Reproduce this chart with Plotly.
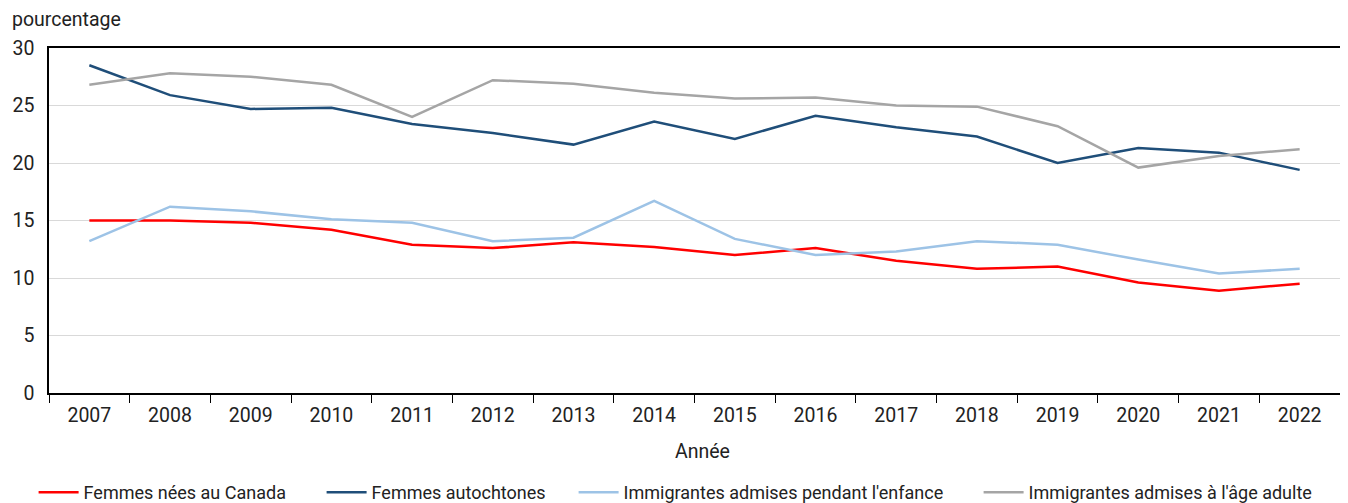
import plotly.graph_objects as go

years = [str(y) for y in range(2007, 2023)]
canada = [15.0, 15.0, 14.8, 14.2, 12.9, 12.6, 13.1, 12.7, 12.0, 12.6, 11.5, 10.8, 11.0, 9.6, 8.9, 9.5]
autochtones = [28.5, 25.9, 24.7, 24.8, 23.4, 22.6, 21.6, 23.6, 22.1, 24.1, 23.1, 22.3, 20.0, 21.3, 20.9, 19.4]
enfance = [13.2, 16.2, 15.8, 15.1, 14.8, 13.2, 13.5, 16.7, 13.4, 12.0, 12.3, 13.2, 12.9, 11.6, 10.4, 10.8]
adulte = [26.8, 27.8, 27.5, 26.8, 24.0, 27.2, 26.9, 26.1, 25.6, 25.7, 25.0, 24.9, 23.2, 19.6, 20.6, 21.2]

series = [
    ("Femmes nées au Canada", canada, "#ff0000"),
    ("Femmes autochtones", autochtones, "#1f4e79"),
    ("Immigrantes admises pendant l'enfance", enfance, "#9dc3e6"),
    ("Immigrantes admises à l'âge adulte", adulte, "#a5a5a5"),
]

FONT = "Roboto, Liberation Sans, sans-serif"
FS = 19.5
LFS = 18
legend_x_px = [25.6, 313.6, 565.6, 970.6]

fig = go.Figure()
legend_ids = ["legend", "legend2", "legend3", "legend4"]
for (name, vals, col), lid in zip(series, legend_ids):
    fig.add_trace(go.Scatter(x=years, y=vals, mode="lines", name=name, legend=lid,
                             line=dict(color=col, width=2.5)))

leg_common = dict(orientation="h", xref="container", xanchor="left",
                  y=-0.005, yref="container", yanchor="bottom",
                  font=dict(size=LFS), itemwidth=40, bgcolor="rgba(0,0,0,0)")
legends = {lid: dict(leg_common, x=px / 1348) for lid, px in zip(legend_ids, legend_x_px)}

fig.update_layout(
    width=1348, height=503,
    margin=dict(l=41, r=16, t=40, b=118, autoexpand=False),
    paper_bgcolor="white", plot_bgcolor="white",
    font=dict(family=FONT, size=FS, color="#222"),
    showlegend=True,
    xaxis=dict(type="category", range=[-0.5, 15.5], tickson="boundaries", ticks="outside",
               ticklen=8, tickcolor="#000", showline=True, linecolor="#000", linewidth=1.5,
               mirror=True, showgrid=False, automargin=False, ticklabelstandoff=4),
    yaxis=dict(range=[0, 30], dtick=5, showline=True, linecolor="#000", linewidth=1.5,
               mirror=True, showgrid=True, gridcolor="#d9d9d9", gridwidth=1,
               ticks="", zeroline=False, automargin=False, ticklabelstandoff=9),
    annotations=[
        dict(text="pourcentage", x=-39 / 1291, xref="paper", y=1,
             yref="paper", yshift=15, xanchor="left", yanchor="bottom",
             showarrow=False, font=dict(size=FS)),
        dict(text="Année", x=0.5, xref="paper", xshift=8, y=0, yref="paper",
             yshift=-58, xanchor="center", yanchor="middle",
             showarrow=False, font=dict(size=FS)),
    ],
    **legends,
)

fig.write_html("out.html")
